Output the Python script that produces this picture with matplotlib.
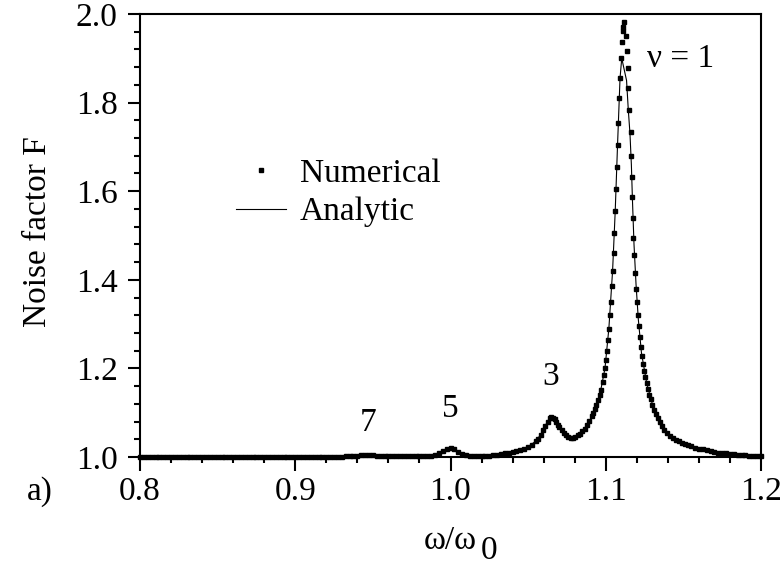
"""Noise factor F versus drive frequency: numerical points against the analytic curve."""

from __future__ import annotations

import matplotlib

matplotlib.use("Agg")

import matplotlib.pyplot as plt
from matplotlib.ticker import FormatStrFormatter, MultipleLocator

# analytic curve (omega / omega_0, F)
ANALYTIC_X = [
    0.800, 0.880, 0.930, 0.940, 0.946, 0.952, 0.960, 0.985, 0.990, 0.995,
    1.000, 1.005, 1.010, 1.015, 1.020, 1.030, 1.035, 1.040, 1.045, 1.050,
    1.055, 1.058, 1.0625, 1.065, 1.0675, 1.070, 1.0745, 1.0775, 1.0805, 1.085,
    1.0895, 1.093, 1.0965, 1.0995, 1.102, 1.1044, 1.1061, 1.1076, 1.1092, 1.1103,
    1.1134, 1.1145, 1.1156, 1.1165, 1.1172, 1.1182, 1.1195, 1.1210, 1.1230, 1.1264,
    1.1306, 1.1355, 1.1412, 1.1457, 1.1586, 1.1700, 1.1779, 1.1900, 1.2000,
]
ANALYTIC_F = [
    1.000, 1.000, 1.001, 1.003, 1.005, 1.003, 1.002, 1.002, 1.005, 1.013,
    1.020, 1.012, 1.004, 1.002, 1.002, 1.004, 1.008, 1.012, 1.015, 1.023,
    1.036, 1.050, 1.080, 1.091, 1.082, 1.068, 1.049, 1.044, 1.046, 1.058,
    1.081, 1.108, 1.146, 1.200, 1.290, 1.420, 1.555, 1.705, 1.855, 1.900,
    1.850, 1.785, 1.730, 1.660, 1.580, 1.480, 1.390, 1.310, 1.235, 1.166,
    1.112, 1.070, 1.048, 1.038, 1.020, 1.012, 1.008, 1.004, 1.002,
]

# numerical points
NUMERICAL_X = [
    0.8000, 0.8025, 0.8050, 0.8075, 0.8100, 0.8125, 0.8150, 0.8175, 0.8200, 0.8225,
    0.8250, 0.8275, 0.8300, 0.8325, 0.8350, 0.8375, 0.8400, 0.8425, 0.8450, 0.8475,
    0.8500, 0.8525, 0.8550, 0.8575, 0.8600, 0.8625, 0.8650, 0.8675, 0.8700, 0.8725,
    0.8750, 0.8775, 0.8800, 0.8825, 0.8850, 0.8875, 0.8900, 0.8925, 0.8950, 0.8975,
    0.9000, 0.9025, 0.9050, 0.9075, 0.9100, 0.9125, 0.9150, 0.9175, 0.9200, 0.9225,
    0.9250, 0.9275, 0.9300, 0.9325, 0.935, 0.9375, 0.940,
    0.9425, 0.945, 0.9475, 0.950, 0.9525, 0.955, 0.9575, 0.960, 0.9625, 0.965,
    0.9675, 0.970, 0.9725, 0.975, 0.9775, 0.980, 0.9825, 0.985, 0.9875, 0.990,
    0.9925, 0.995, 0.9975, 1.000, 1.0025, 1.005,
    1.0075, 1.010, 1.0125, 1.015, 1.0175, 1.020, 1.0225, 1.025, 1.0275, 1.030,
    1.0325, 1.035, 1.0375, 1.040, 1.0425, 1.045, 1.0475, 1.050, 1.0525, 1.055,
    1.0565, 1.058, 1.0595, 1.061, 1.0625, 1.064, 1.065, 1.066, 1.067, 1.068,
    1.069, 1.070, 1.0715, 1.073, 1.0745, 1.076, 1.0775, 1.079, 1.0805, 1.082,
    1.0835, 1.085, 1.0865, 1.088, 1.0895, 1.091, 1.092, 1.093, 1.094, 1.095,
    1.096, 1.097, 1.098, 1.0988, 1.0995, 1.1002, 1.1008, 1.1014, 1.1020, 1.1026,
    1.1032, 1.1038, 1.1044, 1.1050, 1.1055, 1.1061, 1.1066, 1.1071, 1.1076, 1.1081,
    1.1087, 1.1092, 1.1096, 1.1102, 1.1109, 1.1113, 1.1119, 1.1130, 1.1134, 1.1145,
    1.1145, 1.1151, 1.1160, 1.1160, 1.1169, 1.1169, 1.1175, 1.1178, 1.1182, 1.1188,
    1.1194, 1.1200, 1.1207, 1.1213, 1.1220, 1.1227, 1.1234, 1.1241, 1.1248, 1.1256,
    1.1264, 1.1272, 1.1280, 1.1290, 1.1300, 1.1312, 1.1324, 1.1336, 1.1348, 1.1362,
    1.1378, 1.1395, 1.1412, 1.1430, 1.1450, 1.1470, 1.1490, 1.1510, 1.1530, 1.1550,
    1.1575, 1.1600, 1.1625, 1.1650, 1.1675, 1.1700, 1.1725, 1.1750, 1.1775, 1.1800,
    1.1825, 1.1850, 1.1875, 1.1900, 1.1925, 1.1950, 1.1975, 1.2000,
]
NUMERICAL_F = [
    1.000, 1.000, 1.000, 1.000, 1.000, 1.000, 1.000, 1.000, 1.000, 1.000,
    1.000, 1.000, 1.000, 1.000, 1.000, 1.000, 1.000, 1.000, 1.000, 1.000,
    1.000, 1.000, 1.000, 1.000, 1.000, 1.000, 1.000, 1.000, 1.000, 1.000,
    1.000, 1.000, 1.000, 1.001, 1.001, 1.001, 1.001, 1.001, 1.001, 1.001,
    1.001, 1.001, 1.001, 1.001, 1.001, 1.001, 1.001, 1.001, 1.001, 1.001,
    1.001, 1.001, 1.001, 1.002, 1.002, 1.002, 1.003,
    1.004, 1.005, 1.005, 1.004, 1.003, 1.002, 1.002, 1.002, 1.002, 1.002,
    1.002, 1.002, 1.002, 1.002, 1.002, 1.002, 1.002, 1.002, 1.003, 1.005,
    1.008, 1.013, 1.018, 1.020, 1.018, 1.012,
    1.007, 1.004, 1.003, 1.002, 1.002, 1.002, 1.003, 1.003, 1.004, 1.004,
    1.006, 1.008, 1.010, 1.012, 1.013, 1.015, 1.018, 1.023, 1.028, 1.036,
    1.041, 1.050, 1.060, 1.070, 1.080, 1.088, 1.091, 1.089, 1.085, 1.079,
    1.073, 1.068, 1.061, 1.054, 1.049, 1.046, 1.044, 1.044, 1.046, 1.049,
    1.053, 1.058, 1.064, 1.072, 1.081, 1.092, 1.100, 1.108, 1.118, 1.128,
    1.140, 1.152, 1.170, 1.185, 1.200, 1.220, 1.240, 1.265, 1.290, 1.320,
    1.350, 1.385, 1.420, 1.460, 1.505, 1.555, 1.605, 1.655, 1.705, 1.755,
    1.810, 1.855, 1.900, 1.937, 1.962, 1.971, 1.982, 1.950, 1.917, 1.877,
    1.832, 1.783, 1.733, 1.680, 1.632, 1.587, 1.540, 1.495, 1.455, 1.415,
    1.380, 1.350, 1.320, 1.295, 1.270, 1.248, 1.228, 1.210, 1.195, 1.180,
    1.166, 1.153, 1.141, 1.130, 1.118, 1.107, 1.097, 1.087, 1.078, 1.069,
    1.061, 1.054, 1.048, 1.043, 1.039, 1.035, 1.032, 1.029, 1.026, 1.024,
    1.021, 1.019, 1.017, 1.015, 1.013, 1.012, 1.010, 1.009, 1.008, 1.007,
    1.006, 1.005, 1.004, 1.004, 1.003, 1.003, 1.002, 1.002,
]

# resonance labels (nu) and where they sit in data units
PEAK_LABELS = ["\u03bd = 1", "3", "5", "7"]
PEAK_LABEL_X = [1.1266, 1.0647, 0.9997, 0.9469]
PEAK_LABEL_F = [1.900, 1.181, 1.108, 1.077]


def main() -> None:
    plt.rcParams["font.family"] = ["Liberation Serif", "DejaVu Serif"]
    plt.rcParams["font.size"] = 24

    fig = plt.figure(figsize=(7.84, 5.69), dpi=100)
    ax = fig.add_axes([140 / 784, 1 - 457 / 569, 621 / 784, 443 / 569])

    ax.plot(ANALYTIC_X, ANALYTIC_F, color="black", lw=0.8, label="Analytic", zorder=2)
    ax.plot(
        NUMERICAL_X,
        NUMERICAL_F,
        ls="none",
        marker="s",
        ms=2.3,
        mec="black",
        mfc="black",
        label="Numerical",
        zorder=3,
        clip_on=False,
    )

    for text, x, f in zip(PEAK_LABELS, PEAK_LABEL_X, PEAK_LABEL_F):
        ha = "left" if text.startswith("\u03bd") else "center"
        ax.text(x, f, text, ha=ha, va="center", fontsize=24)

    ax.set_xlim(0.8, 1.2)
    ax.set_ylim(1.0, 2.0)
    ax.xaxis.set_major_locator(MultipleLocator(0.1))
    ax.xaxis.set_minor_locator(MultipleLocator(0.02))
    ax.yaxis.set_major_locator(MultipleLocator(0.2))
    ax.yaxis.set_minor_locator(MultipleLocator(0.04))
    ax.xaxis.set_major_formatter(FormatStrFormatter("%.1f"))
    ax.yaxis.set_major_formatter(FormatStrFormatter("%.1f"))
    ax.tick_params(axis="both", which="both", direction="out", width=1.5, labelsize=24)
    ax.tick_params(axis="x", which="major", length=10, pad=4)
    ax.tick_params(axis="x", which="minor", length=4.5)
    ax.tick_params(axis="y", which="major", length=9, pad=7)
    ax.tick_params(axis="y", which="minor", length=4.5)
    for spine in ax.spines.values():
        spine.set_linewidth(1.5)

    ax.set_ylabel("Noise factor F", fontsize=24, va="center")
    ax.yaxis.set_label_coords((38 - 140) / 621, (457 - 232) / 443)
    ax.set_xlabel("\u03c9/\u03c9", fontsize=24, va="center")
    ax.xaxis.set_label_coords((450 - 140) / 621, (457 - 541) / 443)
    ax.text((489 - 140) / 621, (457 - 551) / 443, "0", transform=ax.transAxes,
            ha="center", va="center", fontsize=24)
    ax.text((40 - 140) / 621, (457 - 492) / 443, "a)", transform=ax.transAxes,
            ha="center", va="center", fontsize=24)

    handles, labels = ax.get_legend_handles_labels()
    order = [labels.index("Numerical"), labels.index("Analytic")]
    ax.legend(
        [handles[i] for i in order],
        [labels[i] for i in order],
        loc="upper left",
        bbox_to_anchor=((236 - 140) / 621, (457 - 158) / 443),
        frameon=False,
        numpoints=1,
        handlelength=1.5,
        handletextpad=0.42,
        labelspacing=0.25,
        borderpad=0,
        borderaxespad=0,
        fontsize=24,
    )

    fig.savefig("out.png", dpi=100)
    plt.close(fig)


if __name__ == "__main__":
    main()
